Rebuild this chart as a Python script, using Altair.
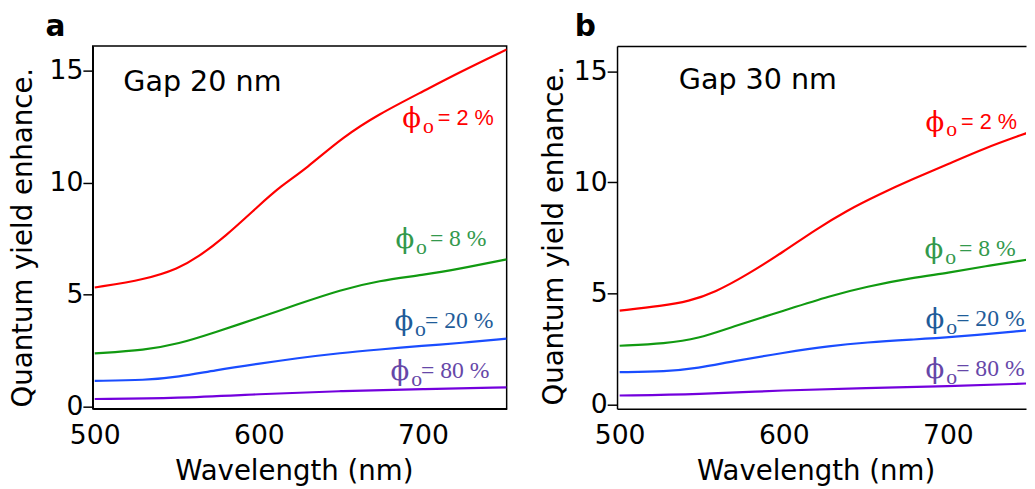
import altair as alt
import pandas as pd

# ---------------- data ----------------
series = ["2 %", "8 %", "20 %", "80 %"]
line_colors = ["#ff0000", "#119a11", "#1a4dff", "#7300dd"]
label_colors = ["#ff0000", "#33994d", "#1f5c99", "#6647a8"]

# Panel a (Gap 20 nm)
a_red_x = [500, 531, 551, 563, 579, 600, 613, 629, 651, 673, 700, 723, 751]
a_red_y = [5.31, 5.67, 6.16, 6.67, 7.55, 8.97, 9.82, 10.63, 12.02, 13.05, 14.07, 14.95, 15.94]
a_green_x = [500, 531, 551, 573, 600, 623, 650, 673, 700, 723, 751]
a_green_y = [2.37, 2.52, 2.79, 3.30, 3.96, 4.55, 5.21, 5.62, 5.87, 6.16, 6.57]
a_blue_x = [500, 531, 551, 573, 600, 623, 650, 673, 700, 723, 751]
a_blue_y = [1.14, 1.17, 1.32, 1.61, 1.91, 2.15, 2.39, 2.54, 2.71, 2.83, 3.03]
a_purple_x = [500, 551, 600, 650, 700, 751]
a_purple_y = [0.33, 0.37, 0.55, 0.69, 0.77, 0.85]

# Panel b (Gap 30 nm)
b_red_x = [500, 526, 542, 558, 578, 600, 619, 638.5, 658.6, 678.6, 700, 722.6, 748]
b_red_y = [4.23, 4.45, 4.65, 5.05, 5.86, 6.89, 7.86, 8.74, 9.48, 10.15, 10.82, 11.55, 12.22]
b_green_x = [500, 528, 548, 568, 600, 628.5, 650, 678.6, 700, 722.6, 748]
b_green_y = [2.65, 2.75, 2.97, 3.49, 4.23, 4.90, 5.31, 5.71, 5.93, 6.23, 6.52]
b_blue_x = [500, 528, 548, 568, 600, 628.5, 650, 678.6, 700, 748]
b_blue_y = [1.46, 1.49, 1.64, 1.94, 2.34, 2.65, 2.80, 2.93, 3.02, 3.34]
b_purple_x = [500, 548, 600, 650, 700, 748]
b_purple_y = [0.41, 0.46, 0.65, 0.75, 0.83, 0.95]

# curve labels (anchor of the phi symbol)
label_rest = ["= 2 %", "= 8 %", "= 20 %", "= 80 %"]
a_label_x = [687.4, 683.2, 682.6, 680.2]
a_label_y = [12.83, 7.42, 3.77, 1.53]
b_label_x = [686.4, 685.8, 686.4, 686.4]
b_label_y = [12.69, 6.97, 3.82, 1.55]

gap_texts = ["Gap 20 nm", "Gap 30 nm"]
gap_x = [517.4, 536.0]
gap_y = [14.5, 14.6]

x_major = [500, 600, 700]
y_major = [0, 5, 10, 15]

# ---------------- helpers ----------------
def lines_df(xs_list, ys_list):
    rows = []
    for s, xs, ys in zip(series, xs_list, ys_list):
        for x, y in zip(xs, ys):
            rows.append({"series": s, "wl": x, "val": y})
    return pd.DataFrame(rows)

def labels_df(lx, ly):
    return pd.DataFrame({"series": series, "x": lx, "y": ly, "rest": label_rest})

FONT = "DejaVu Sans"


def panel(ldf, labdf, gap_i, xdom, ydom, width, height, letter, letter_dx,
          title_pad_y, title_y_shift, top_axis):
    xs = alt.Scale(domain=xdom, nice=False, zero=False)
    ys = alt.Scale(domain=ydom, nice=False, zero=False)
    cscale = alt.Scale(domain=series, range=line_colors)
    lscale = alt.Scale(domain=series, range=label_colors)

    x_axis = alt.Axis(
        values=x_major, format="d", title="Wavelength (nm)", ticks=False, tickSize=0,
        grid=False, domain=True, domainColor="black", domainWidth=1.5,
        labelFont=FONT, labelFontSize=27, labelColor="black", labelPadding=14,
        labelFlush=False, labelOverlap=False,
        titleFont=FONT, titleFontSize=28, titleFontWeight="normal", titleColor="black",
        titlePadding=10, titleX=width / 2 - 6)
    y_axis = alt.Axis(
        values=y_major, format="d", title="Quantum yield enhance.",
        ticks=True, tickSize=10, tickWidth=1.5, tickColor="black",
        grid=False, domain=True, domainColor="black", domainWidth=1.5,
        labelFont=FONT, labelFontSize=27, labelColor="black", labelPadding=0,
        labelFlush=False, labelOverlap=False,
        titleFont=FONT, titleFontSize=28, titleFontWeight="normal", titleColor="black",
        titlePadding=title_pad_y, titleY=height / 2 + title_y_shift)

    other_x_axis = None if top_axis else x_axis

    lines = alt.Chart(ldf).mark_line(strokeWidth=2.2, interpolate="basis", clip=True).encode(
        x=alt.X("wl:Q", scale=xs, axis=x_axis),
        y=alt.Y("val:Q", scale=ys, axis=y_axis),
        color=alt.Color("series:N", scale=cscale, legend=None),
    )
    layers = [lines]

    if top_axis:
        top = alt.Chart(ldf).mark_line(strokeOpacity=0).encode(
            x=alt.X("wl:Q", scale=xs, axis=alt.Axis(
                orient="top", labels=False, ticks=False, tickSize=0, grid=False,
                domain=True, domainColor="black", domainWidth=1.5, title=None)),
            y=alt.Y("val:Q", scale=ys, axis=y_axis),
            detail="series:N",
        )
        layers.append(top)

    base_lab = alt.Chart(labdf).encode(
        x=alt.X("x:Q", scale=xs, axis=other_x_axis),
        y=alt.Y("y:Q", scale=ys, axis=y_axis),
        color=alt.Color("series:N", scale=lscale, legend=None),
    )
    phi = base_lab.mark_text(text="\u03d5", align="left", baseline="middle",
                             font="DejaVu Serif", fontSize=28)
    sub = base_lab.mark_text(text="o", align="left", baseline="middle",
                             font="Liberation Serif", fontSize=22, dx=21, dy=7)
    rest_red = base_lab.transform_filter(alt.datum.series == series[0]).mark_text(
        align="left", baseline="middle", font="Liberation Sans, Arial, sans-serif",
        fontSize=22, dx=36, dy=-1
    ).encode(text="rest:N")
    rest_green = base_lab.transform_filter(alt.datum.series == series[1]).mark_text(
        align="left", baseline="middle", font="Liberation Serif", fontSize=24, dx=35, dy=-1
    ).encode(text="rest:N")
    rest_other = base_lab.transform_filter(
        (alt.datum.series == series[2]) | (alt.datum.series == series[3])
    ).mark_text(
        align="left", baseline="middle", font="Liberation Serif", fontSize=24, dx=31, dy=-1
    ).encode(text="rest:N")

    gdf = pd.DataFrame({"t": [gap_texts[gap_i]], "x": [gap_x[gap_i]], "y": [gap_y[gap_i]]})
    gap = alt.Chart(gdf).mark_text(align="left", baseline="middle", font=FONT,
                                   fontSize=29, color="black").encode(
        x=alt.X("x:Q", scale=xs, axis=other_x_axis),
        y=alt.Y("y:Q", scale=ys, axis=y_axis),
        text="t:N",
    )
    layers += [phi, sub, rest_red, rest_green, rest_other, gap]

    ch = alt.layer(*layers).resolve_scale(color="independent")
    if top_axis:
        ch = ch.resolve_axis(x="independent")
    ch = ch.properties(
        width=width, height=height,
        title=alt.TitleParams(letter, anchor="start", frame="group", dx=letter_dx,
                              fontSize=30, font=FONT, fontWeight="bold", color="black",
                              offset=4),
    )
    return ch


pa = panel(lines_df([a_red_x, a_green_x, a_blue_x, a_purple_x],
                    [a_red_y, a_green_y, a_blue_y, a_purple_y]),
           labels_df(a_label_x, a_label_y), 0,
           [498.8, 751.0], [-0.1, 16.1], 420, 368, "a", -48,
           12, 10, False)
pa = pa.properties(view=alt.ViewBackground(stroke="black", strokeWidth=1.5))

pb = panel(lines_df([b_red_x, b_green_x, b_blue_x, b_purple_x],
                    [b_red_y, b_green_y, b_blue_y, b_purple_y]),
           labels_df(b_label_x, b_label_y), 1,
           [498.4, 747.6], [-0.18, 16.14], 415, 368, "b", -43,
           5, 8, True)

chart = alt.hconcat(pa, pb, spacing=33).properties(
    padding={"left": 0, "top": 0, "right": 0, "bottom": 0}
).configure_view(stroke=None)

chart.save("out.html", embed_options={"renderer": "svg", "actions": False})
